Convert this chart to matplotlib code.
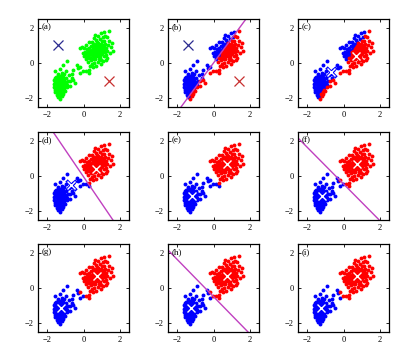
import numpy as np
import matplotlib
matplotlib.use("Agg")
import matplotlib.pyplot as plt

plt.rcParams['font.family'] = ['Liberation Serif', 'DejaVu Serif']

# points (standardised units)
upper = [
    (0.62, 0.71), (0.78, 0.66), (0.85, 0.80), (0.70, 0.55), (0.55, 0.60), (0.92, 0.62), (0.68, 0.88),
    (0.80, 0.48), (0.48, 0.75), (1.00, 0.78), (0.74, 0.74), (0.60, 0.45), (0.88, 0.95), (0.95, 0.50),
    (0.58, 0.90), (0.72, 0.38), (1.05, 0.65), (0.66, 0.63), (0.83, 0.58), (0.52, 0.52), (0.90, 0.72),
    (0.77, 0.85), (0.63, 0.80), (0.98, 0.88), (0.45, 0.62), (0.86, 0.42), (0.71, 1.00), (1.10, 0.82),
    (0.57, 0.35), (0.80, 0.70), (0.69, 0.69), (0.94, 0.70), (0.76, 0.56), (0.61, 0.58), (0.84, 0.88),
    (0.50, 0.84), (1.03, 0.55), (0.73, 0.93), (0.88, 0.52), (0.65, 0.50),
    (0.35, 0.70), (0.40, 0.95), (0.30, 0.45), (1.15, 0.95), (1.20, 0.60), (0.95, 1.10), (0.60, 1.10),
    (1.10, 0.40), (0.42, 0.30), (0.85, 0.25), (1.25, 0.85), (0.30, 0.85), (0.75, 1.20), (1.00, 1.25),
    (0.50, 1.05), (1.18, 1.10), (0.25, 0.60), (0.65, 0.20), (1.30, 0.70), (0.38, 0.55), (1.08, 1.02),
    (0.55, 0.22), (0.92, 0.30), (0.20, 0.78), (0.82, 1.12), (1.22, 0.48), (0.45, 1.18), (0.68, 1.30),
    (1.12, 1.25), (0.98, 0.18), (0.32, 0.30), (1.35, 1.00), (0.15, 0.50), (0.88, 1.35), (0.40, 0.15),
    (0.05, 0.85), (-0.10, 0.90), (-0.20, 0.85), (0.10, 0.65), (0.00, 0.40), (0.12, 0.20), (0.25, 0.05),
    (0.45, -0.05), (0.60, 0.00), (0.78, 0.05), (1.05, 0.10), (1.30, 0.30), (1.45, 0.55), (1.50, 0.90),
    (1.40, 1.25), (1.30, 1.45), (1.42, 1.80), (1.20, 1.55), (1.05, 1.50), (0.80, 1.55), (0.55, 1.40),
    (0.30, 1.20), (0.15, 1.05), (0.95, 1.70), (1.55, 1.15), (1.60, 0.70), (0.35, -0.15), (0.70, -0.15),
    (0.50, -0.20), (1.15, 1.75), (0.20, 0.35), (-0.05, 0.55), (0.62, 1.60), (1.25, 0.15), (0.95, -0.05),
    (0.78, 0.78), (0.66, 0.76), (0.87, 0.66), (0.73, 0.61), (0.58, 0.68), (0.95, 0.82), (0.82, 0.45),
    (0.70, 0.85), (0.62, 0.40), (1.00, 0.95), (0.53, 0.95), (0.91, 0.40), (0.47, 0.48), (1.08, 0.72),
    (0.76, 0.97), (0.85, 1.02),
]
bridge = [
    (-0.38, -0.13), (-0.30, -0.28), (-0.18, -0.25), (-0.02, -0.45), (0.15, -0.48), (0.32, -0.40),
    (0.28, -0.58), (-0.58, -0.40), (-0.20, -0.55), (-0.62, -0.60),
]
lower = [
    (-1.10, -0.10), (-0.88, 0.10), (-1.55, -0.48), (-1.30, -0.35), (-0.95, -0.45), (-1.20, -0.55),
    (-1.42, -0.62), (-1.05, -0.65), (-0.80, -0.70), (-1.30, -0.72), (-1.52, -0.78), (-1.15, -0.80),
    (-0.98, -0.85), (-1.38, -0.88), (-1.25, -0.92), (-1.60, -0.95), (-1.08, -0.98), (-0.65, -0.85),
    (-1.45, -1.02), (-1.32, -1.05), (-1.18, -1.08), (-0.56, -0.97), (-1.55, -1.10), (-1.40, -1.12),
    (-1.26, -1.15), (-1.12, -1.18), (-0.95, -1.15), (-0.47, -1.16), (-1.62, -1.22), (-1.48, -1.24),
    (-1.34, -1.22), (-1.20, -1.28), (-1.05, -1.30), (-0.72, -1.30), (-1.42, -1.35), (-1.28, -1.38),
    (-1.15, -1.40), (-0.88, -1.38), (-1.55, -1.42), (-1.36, -1.48), (-1.22, -1.50), (-1.08, -1.52),
    (-1.46, -1.58), (-1.30, -1.60), (-1.15, -1.65), (-1.58, -1.65), (-1.40, -1.70), (-1.25, -1.75),
    (-1.48, -1.80), (-1.33, -1.85), (-1.18, -1.88), (-1.42, -1.95), (-1.28, -2.02), (-1.36, -1.00),
    (-1.22, -1.02), (-1.50, -0.92), (-1.12, -1.25), (-1.30, -1.30), (-1.40, -1.20), (-1.25, -1.45),
    (-1.35, -1.15), (-1.18, -1.35), (-1.45, -1.45), (-1.02, -1.10), (-1.28, -0.80), (-1.40, -0.75),
    (-1.10, -0.90), (-0.85, -1.05), (-0.90, -1.25), (-1.00, -1.60), (-1.62, -1.35), (-1.55, -1.55),
    (-1.32, -1.72), (-1.10, -1.78), (-1.45, -1.10), (-1.18, -1.18), (-1.28, -1.10), (-1.35, -1.55),
    (-1.20, -0.68), (-1.58, -0.85), (-0.75, -1.05), (-1.05, -1.42), (-1.40, -1.62),
]

# centroid estimates (blue, red) at each stage
centroids = [
    [(-1.40, 1.00), (1.40, -1.00)],
    [(-0.70, -0.50), (0.70, 0.42)],
    [(-1.18, -1.12), (0.72, 0.70)],
    [(-1.24, -1.16), (0.74, 0.71)],
]

labels = ['(a)', '(b)', '(c)', '(d)', '(e)', '(f)', '(g)', '(h)', '(i)']
assign_stage = [None, 0, 0, 1, 1, 2, 2, 3, 3]
shown_stage = [0, 0, 1, 1, 2, 2, 3, 3, 3]
line_stage = [None, 0, None, 1, None, 2, None, 3, None]

pts = np.array(upper + bridge + lower)

fig = plt.figure(figsize=(3.93, 3.53), dpi=100)
W, H = 393.0, 353.0
lefts = [38, 168, 298]
tops = [19, 132, 244]
aw, ah = 91, 88

xs = np.linspace(-3, 3, 10)
for k in range(9):
    r, c = divmod(k, 3)
    ax = fig.add_axes([lefts[c] / W, (H - tops[r] - ah) / H, aw / W, ah / H])
    if assign_stage[k] is None:
        ax.plot(pts[:, 0], pts[:, 1], 'o', color='#00ff00', ms=2.8, mew=0)
    else:
        cb, cr = np.array(centroids[assign_stage[k]])
        db = ((pts - cb) ** 2).sum(1)
        dr = ((pts - cr) ** 2).sum(1)
        blue = db < dr
        ax.plot(pts[blue, 0], pts[blue, 1], 'o', color='#0000ff', ms=2.8, mew=0)
        ax.plot(pts[~blue, 0], pts[~blue, 1], 'o', color='#ff0000', ms=2.8, mew=0)
    if line_stage[k] is not None:
        cb, cr = np.array(centroids[line_stage[k]])
        mid = (cb + cr) / 2
        d = cr - cb
        ys = mid[1] - d[0] / d[1] * (xs - mid[0])
        ax.plot(xs, ys, color='#c040c0', lw=1.0)
    cb, cr = centroids[shown_stage[k]]
    if k < 2:
        ax.plot(*cb, 'x', color='#2b2b8f', ms=6.5, mew=0.9)
        ax.plot(*cr, 'x', color='#c83030', ms=6.5, mew=0.9)
    else:
        ax.plot(*cb, 'x', color='#0000ff', ms=7, mew=2.4)
        ax.plot(*cb, 'x', color='white', ms=6, mew=1.0)
        ax.plot(*cr, 'x', color='#ff0000', ms=7, mew=2.4)
        ax.plot(*cr, 'x', color='white', ms=6, mew=1.0)
    ax.set_xlim(-2.5, 2.5)
    ax.set_ylim(-2.5, 2.5)
    ax.set_xticks([-2, 0, 2])
    ax.set_yticks([-2, 0, 2])
    ax.tick_params(direction='in', length=2, width=0.6, labelsize=6, pad=3,
                   top=True, right=True)
    for s in ax.spines.values():
        s.set_linewidth(0.9)
    ax.text(-2.3, 2.25, labels[k], fontsize=6.5, va='top', ha='left')

fig.savefig('out.png', dpi=100)
